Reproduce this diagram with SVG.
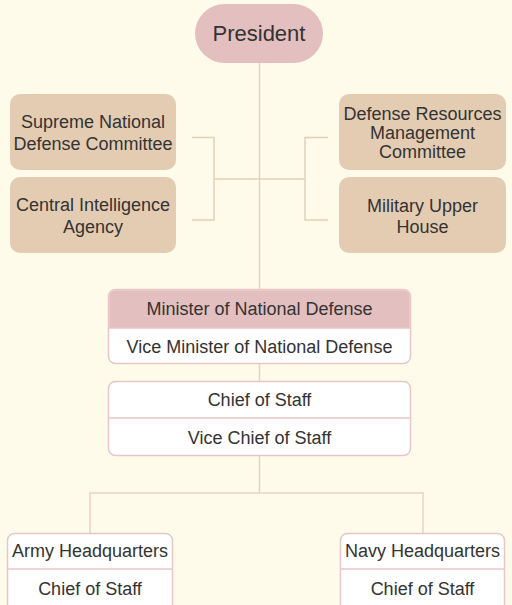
<svg xmlns="http://www.w3.org/2000/svg" width="512" height="605" viewBox="0 0 512 605">
<style>
text{font-family:"Liberation Sans",Arial,sans-serif;fill:#333;text-anchor:middle;font-size:18px}
.tan{fill:#E3CCB2}
.pink{fill:#E4BFBF}
.box{fill:#fff;stroke:#E9C6C6;stroke-width:1.5}
.div{stroke:#E9C6C6;stroke-width:1.5}
.cl{fill:none;stroke:#EBCFCB;stroke-width:1.5}
.bl{fill:none;stroke:#E6CFB4;stroke-width:1.5}
</style>
<rect width="512" height="605" fill="#FFFBEA"/>
<g id="connectors">
<path class="cl" d="M259.5 63V289M259.5 364V381M259.5 456V493M90 533V493H423V533"/>
<path class="bl" d="M192 137.5H214V220H192M214 179H305M328 137.5H305V220H328"/>
</g>
<g id="president">
<rect class="pink" x="195" y="4" width="128" height="59" rx="29.5"/>
<text x="259" y="41" style="font-size:22px">President</text>
</g>
<g id="supreme">
<rect class="tan" x="10" y="94" width="166" height="76" rx="10"/>
<text x="93" y="128">Supreme National</text>
<text x="93" y="150">Defense Committee</text>
</g>
<g id="cia">
<rect class="tan" x="10" y="177" width="166" height="76" rx="10"/>
<text x="93" y="211">Central Intelligence</text>
<text x="93" y="233">Agency</text>
</g>
<g id="resources">
<rect class="tan" x="339" y="94" width="167" height="76" rx="10"/>
<text x="422.5" y="120">Defense Resources</text>
<text x="422.5" y="139">Management</text>
<text x="422.5" y="158">Committee</text>
</g>
<g id="upper">
<rect class="tan" x="339" y="177" width="167" height="76" rx="10"/>
<text x="422.5" y="212">Military Upper</text>
<text x="422.5" y="233">House</text>
</g>
<g id="minister">
<rect class="box" x="108.5" y="289.5" width="302" height="74" rx="7"/>
<path class="pink" d="M109.25 328V296.5a6.25 6.25 0 0 1 6.25-6.25H403.5a6.25 6.25 0 0 1 6.25 6.25V328Z"/>
<line class="div" x1="108.5" y1="328" x2="410.5" y2="328"/>
<text x="259.5" y="315">Minister of National Defense</text>
<text x="259.5" y="353">Vice Minister of National Defense</text>
</g>
<g id="chief">
<rect class="box" x="108.5" y="381.5" width="302" height="74" rx="7"/>
<line class="div" x1="108.5" y1="418" x2="410.5" y2="418"/>
<text x="259.5" y="406">Chief of Staff</text>
<text x="259.5" y="444">Vice Chief of Staff</text>
</g>
<g id="army">
<rect class="box" x="7.5" y="533.5" width="165" height="80" rx="7"/>
<line class="div" x1="7.5" y1="569" x2="172.5" y2="569"/>
<text x="90" y="557">Army Headquarters</text>
<text x="90" y="595">Chief of Staff</text>
</g>
<g id="navy">
<rect class="box" x="340.5" y="533.5" width="164" height="80" rx="7"/>
<line class="div" x1="340.5" y1="569" x2="504.5" y2="569"/>
<text x="422.5" y="557">Navy Headquarters</text>
<text x="422.5" y="595">Chief of Staff</text>
</g>
</svg>
